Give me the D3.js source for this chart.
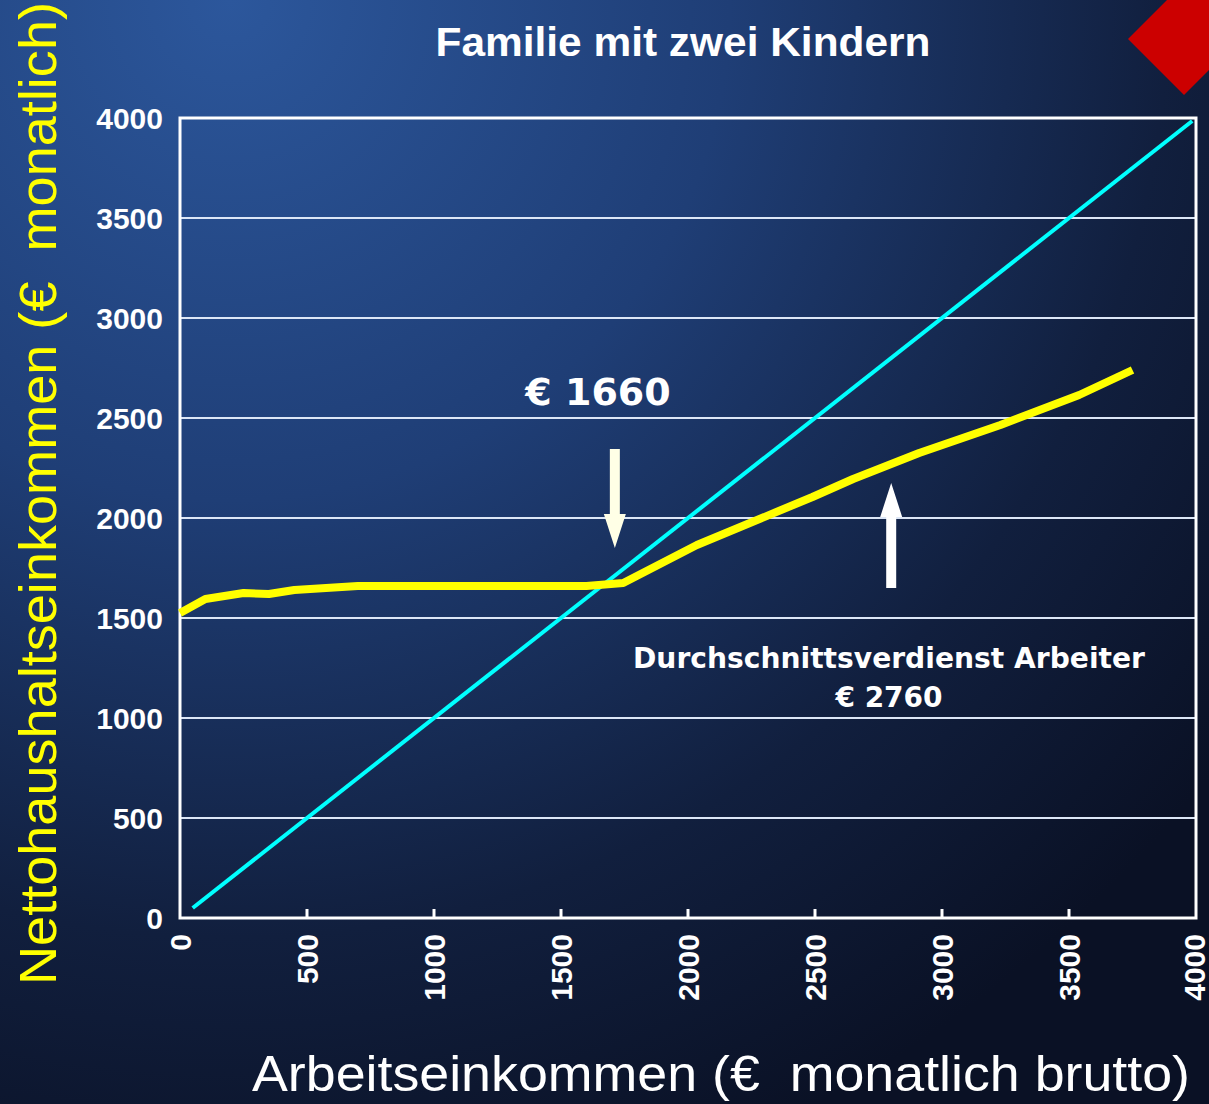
<!DOCTYPE html>
<html>
<head>
<meta charset="utf-8">
<script src="https://cdn.jsdelivr.net/npm/d3@7"></script>
<style>
  body { margin: 0; background: #0b1328; }
  svg { display: block; }
</style>
</head>
<body>
<svg id="chart"></svg>
<script>
// Bruttoeinkommen -> Nettohaushaltseinkommen (Familie mit zwei Kindern)
const incomeX = [0, 100, 250, 350, 450, 700, 1000, 1300, 1600, 1745, 2035, 2490, 2650, 2910, 3230, 3540, 3750];
const netIncome = [1525, 1595, 1625, 1620, 1640, 1660, 1660, 1660, 1660, 1675, 1865, 2105, 2195, 2325, 2465, 2615, 2740];
// Bruttoeinkommen = Nettoeinkommen (Referenzlinie)
const refX = [50, 3985];
const refY = [50, 3985];
const xTicks = [0, 500, 1000, 1500, 2000, 2500, 3000, 3500, 4000];
const yTicks = [0, 500, 1000, 1500, 2000, 2500, 3000, 3500, 4000];

const W = 1209, H = 1104;
const margin = { top: 118, right: 12, bottom: 186, left: 180 };

const svg = d3.select('#chart').attr('width', W).attr('height', H);

// background
const defs = svg.append('defs');
const grad = defs.append('radialGradient')
    .attr('id', 'bg')
    .attr('gradientUnits', 'userSpaceOnUse')
    .attr('cx', 230).attr('cy', 0).attr('r', 1250);
grad.append('stop').attr('offset', '0%').attr('stop-color', '#2c579c');
grad.append('stop').attr('offset', '40%').attr('stop-color', '#1f3e76');
grad.append('stop').attr('offset', '75%').attr('stop-color', '#111f3e');
grad.append('stop').attr('offset', '100%').attr('stop-color', '#0a1125');
svg.append('rect').attr('width', W).attr('height', H).attr('fill', 'url(#bg)');

// red diamond top right
svg.append('path')
    .attr('d', 'M1128,39 L1184,95 L1260,19 L1204,-37 Z')
    .attr('fill', '#cc0000');

const x = d3.scaleLinear().domain([0, 4000]).range([margin.left, W - margin.right - 1]);
const y = d3.scaleLinear().domain([0, 4000]).range([H - margin.bottom, margin.top]);

// grid
svg.append('g')
    .selectAll('line')
    .data(yTicks.slice(1, -1))
    .enter().append('line')
    .attr('x1', x(0)).attr('x2', x(4000))
    .attr('y1', d => y(d)).attr('y2', d => y(d))
    .attr('stroke', '#dce6f6')
    .attr('stroke-width', 2);

// x tick marks (inside)
svg.append('g')
    .selectAll('line')
    .data(xTicks.slice(1, -1))
    .enter().append('line')
    .attr('x1', d => x(d)).attr('x2', d => x(d))
    .attr('y1', y(0)).attr('y2', y(0) - 9)
    .attr('stroke', '#ffffff')
    .attr('stroke-width', 3);

// frame
svg.append('rect')
    .attr('x', x(0)).attr('y', y(4000))
    .attr('width', x(4000) - x(0)).attr('height', y(0) - y(4000))
    .attr('fill', 'none')
    .attr('stroke', '#ffffff')
    .attr('stroke-width', 3);

// y tick labels
svg.append('g')
    .selectAll('text')
    .data(yTicks)
    .enter().append('text')
    .attr('x', 163)
    .attr('y', d => y(d) + 11)
    .attr('text-anchor', 'end')
    .style('font-family', 'Liberation Sans, Arial, sans-serif')
    .style('font-weight', 'bold')
    .style('font-size', '30px')
    .attr('fill', '#ffffff')
    .text(d => d);

// x tick labels (rotated)
svg.append('g')
    .selectAll('text')
    .data(xTicks)
    .enter().append('text')
    .attr('transform', d => `translate(${Math.min(x(d) + 11, 1205)},934) rotate(-90)`)
    .attr('text-anchor', 'end')
    .style('font-family', 'Liberation Sans, Arial, sans-serif')
    .style('font-weight', 'bold')
    .style('font-size', '30px')
    .attr('fill', '#ffffff')
    .text(d => d);

// reference line
svg.append('line')
    .attr('x1', x(refX[0])).attr('y1', y(refY[0]))
    .attr('x2', x(refX[1])).attr('y2', y(refY[1]))
    .attr('stroke', '#00ffff')
    .attr('stroke-width', 4);

// net income line
const line = d3.line()
    .x((d, i) => x(incomeX[i]))
    .y(d => y(d));
svg.append('path')
    .datum(netIncome)
    .attr('d', line)
    .attr('fill', 'none')
    .attr('stroke', '#ffff00')
    .attr('stroke-width', 8)
    .attr('stroke-linejoin', 'round');

// arrows
const arrow = (xv, y1, y2, color) => {
    const px = x(xv), ps = y(y1), pe = y(y2);
    const dir = pe > ps ? 1 : -1;
    const headLen = 34, headW = 18, shaft = 10;
    svg.append('path')
        .attr('d', `M${px - shaft / 2},${ps} L${px + shaft / 2},${ps} L${px + shaft / 2},${pe - dir * headLen}
            L${px + headW / 2 + 2},${pe - dir * headLen} L${px},${pe} L${px - headW / 2 - 2},${pe - dir * headLen}
            L${px - shaft / 2},${pe - dir * headLen} Z`)
        .attr('fill', color);
};
arrow(1712, 2345, 1850, '#ffffe6');
arrow(2800, 1650, 2175, '#ffffff');

// annotations
svg.append('text')
    .attr('x', 598).attr('y', 405)
    .attr('text-anchor', 'middle')
    .style('font-family', 'DejaVu Sans, Verdana, sans-serif')
    .style('font-weight', 'bold')
    .style('font-size', '38px')
    .attr('fill', '#ffffff')
    .text('€ 1660');

svg.append('text')
    .attr('x', 889).attr('y', 668)
    .attr('text-anchor', 'middle')
    .attr('textLength', 512)
    .attr('lengthAdjust', 'spacingAndGlyphs')
    .style('font-family', 'DejaVu Sans, Verdana, sans-serif')
    .style('font-weight', 'bold')
    .style('font-size', '28px')
    .attr('fill', '#ffffff')
    .text('Durchschnittsverdienst Arbeiter');

svg.append('text')
    .attr('x', 889).attr('y', 707)
    .attr('text-anchor', 'middle')
    .style('font-family', 'DejaVu Sans, Verdana, sans-serif')
    .style('font-weight', 'bold')
    .style('font-size', '28px')
    .attr('fill', '#ffffff')
    .text('€ 2760');

// title
svg.append('text')
    .attr('x', 683).attr('y', 56)
    .attr('text-anchor', 'middle')
    .attr('textLength', 495)
    .attr('lengthAdjust', 'spacingAndGlyphs')
    .style('font-family', 'Liberation Sans, Arial, sans-serif')
    .style('font-weight', 'bold')
    .style('font-size', '40px')
    .attr('fill', '#ffffff')
    .text('Familie mit zwei Kindern');

// axis titles
svg.append('text')
    .attr('transform', 'translate(56,985) rotate(-90)')
    .attr('text-anchor', 'start')
    .attr('textLength', 983)
    .attr('lengthAdjust', 'spacingAndGlyphs')
    .style('white-space', 'pre')
    .style('font-family', 'Liberation Sans, Arial, sans-serif')
    .style('font-size', '52px')
    .attr('fill', '#ffff00')
    .text('Nettohaushaltseinkommen (€  monatlich)');

svg.append('text')
    .attr('x', 1190).attr('y', 1091)
    .attr('text-anchor', 'end')
    .attr('textLength', 938)
    .attr('lengthAdjust', 'spacingAndGlyphs')
    .style('white-space', 'pre')
    .style('font-family', 'Liberation Sans, Arial, sans-serif')
    .style('font-size', '50px')
    .attr('fill', '#ffffff')
    .text('Arbeitseinkommen (€  monatlich brutto)');
</script>
</body>
</html>
